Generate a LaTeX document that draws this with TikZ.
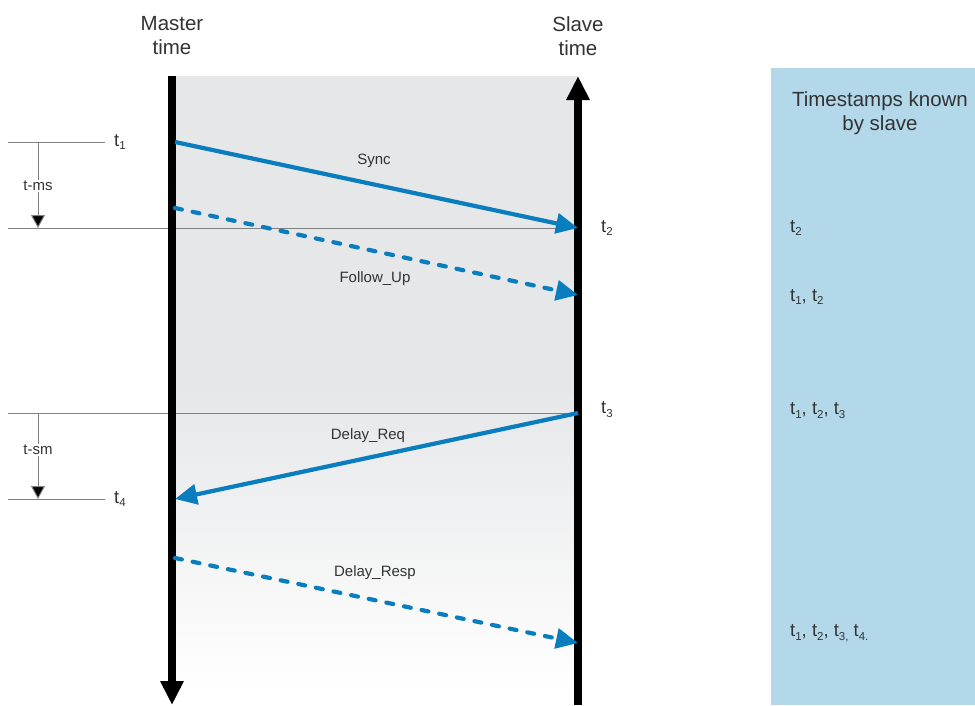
\documentclass[tikz,border=0pt]{standalone}
\usepackage{fontspec}
\setmainfont{Liberation Sans}
\usetikzlibrary{arrows.meta}
\definecolor{ptpblue}{HTML}{0A7DBE}
\definecolor{panelblue}{HTML}{B3D8EA}
\definecolor{bggray}{HTML}{E6E7E9}
\definecolor{txt}{HTML}{333333}
\definecolor{rule}{HTML}{808080}
\newcommand{\sbs}[1]{\raisebox{-0.4ex}{\fontsize{11.5}{11.5}\selectfont #1}}
\begin{document}
\begin{tikzpicture}[x=1pt,y=-1pt,
  head/.style={font=\fontsize{20.5}{24}\selectfont, text=txt, align=center},
  msg/.style={font=\fontsize{15}{17}\selectfont, text=txt},
  tlab/.style={font=\fontsize{18.5}{20}\selectfont, text=txt, anchor=west, inner sep=0pt},
  known/.style={font=\fontsize{18.5}{20}\selectfont, text=txt, anchor=west, inner sep=0pt},
  timeline/.style={line width=8pt, -{Triangle[length=24pt,width=22pt]}},
  thin/.style={draw=rule, line width=1pt},
  interval/.style={draw=rule, line width=1pt, -{Triangle[length=13pt,width=14pt,fill=black]}},
  sigline/.style={draw=ptpblue, line width=4.2pt, -{Triangle[length=22pt,width=20pt]}},
  sigdash/.style={sigline, dash pattern=on 7pt off 11pt, line cap=round}
]
\useasboundingbox (0,0) rectangle (975,705);
% background of the exchange area
\fill[bggray] (175,76) rectangle (578,390);
\shade[top color=bggray, bottom color=white] (175,389) rectangle (578,690);
\fill[white] (175,689) rectangle (578,705);
% right panel
\fill[panelblue] (771,68) rectangle (975,705);

% coordinates
\coordinate (m1) at (175,142);
\coordinate (s2) at (578,228);
\coordinate (m2) at (175,208);
\coordinate (s3) at (578,295);
\coordinate (s4) at (578,413);
\coordinate (m4) at (175,499);
\coordinate (m5) at (175,558);
\coordinate (s5) at (578,643);

% thin reference lines
\coordinate (l1a) at (8,142); \coordinate (l1b) at (105,142);
\coordinate (l2a) at (8,228);
\coordinate (l3a) at (8,413);
\coordinate (l4a) at (8,499); \coordinate (l4b) at (105,499);
\draw[thin] (l1a) -- (l1b);
\draw[thin] (l2a) -- (s2);
\draw[thin] (l3a) -- (s4);
\draw[thin] (l4a) -- (l4b);

% interval arrows
\coordinate (i1a) at (38,142); \coordinate (i1b) at (38,228);
\coordinate (i2a) at (38,413); \coordinate (i2b) at (38,499);
\draw[interval] (i1a) -- (i1b);
\draw[interval] (i2a) -- (i2b);
\node[msg, fill=white, inner sep=1pt] (tms) at (38,186) {t-ms};
\node[msg, fill=white, inner sep=1pt] (tsm) at (38,450) {t-sm};

% time lines
\coordinate (mtop) at (172,76); \coordinate (mbot) at (172,705);
\coordinate (sbot) at (578,705); \coordinate (stop) at (578,76);
\draw[timeline] (mtop) -- (mbot);
\draw[timeline] (sbot) -- (stop);

% headings
\node[head] (master) at (172,36) {Master\\time};
\node[head] (slave) at (578,36) {Slave\\time};

% messages
\draw[sigline] (m1) -- (s2);
\draw[sigdash] (m2) -- (s3);
\draw[sigline] (s4) -- (m4);
\draw[sigdash] (m5) -- (s5);
\node[msg] (sync) at (374,161) {Sync};
\node[msg] (fup) at (375,279) {Follow\_Up};
\node[msg] (dreq) at (368,436) {Delay\_Req};
\node[msg] (dresp) at (375,573) {Delay\_Resp};

% time labels
\node[tlab] (t1) at (114,142) {t\sbs{1}};
\node[tlab] (t2) at (601,228) {t\sbs{2}};
\node[tlab] (t3) at (601,410) {t\sbs{3}};
\node[tlab] (t4) at (114,499) {t\sbs{4}};

% panel
\node[head] (ptitle) at (880,113) {Timestamps known\\by slave};
\node[known] (k1) at (790,228) {t\sbs{2}};
\node[known] (k2) at (790,297) {t\sbs{1}, t\sbs{2}};
\node[known] (k3) at (790,411) {t\sbs{1}, t\sbs{2}, t\sbs{3}};
\node[known] (k4) at (790,633) {t\sbs{1}, t\sbs{2}, t\sbs{3,} t\sbs{4.}};
\end{tikzpicture}
\end{document}
